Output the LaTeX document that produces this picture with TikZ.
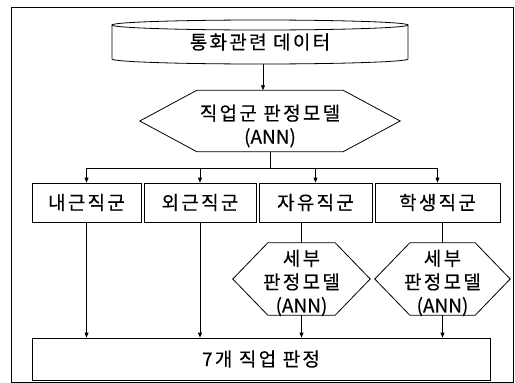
\documentclass[tikz,border=0pt]{standalone}
\usepackage{fontspec}
\setmainfont{Noto Sans CJK KR}[LetterSpace=12,FakeBold=0.4]
\newfontfamily\latn{Noto Sans CJK KR}[FakeBold=0.4]
\usetikzlibrary{arrows.meta}
\newcommand\hexoutline[2]{\draw[line] (#1.west) -- ([xshift=#2]#1.north west) -- ([xshift=-#2]#1.north east) -- (#1.east) -- ([xshift=-#2]#1.south east) -- ([xshift=#2]#1.south west) -- cycle;}
\begin{document}
\begin{tikzpicture}[x=1pt,y=-1pt,
  line/.style={line width=0.8pt,black},
  arr/.style={line,-{Triangle[length=5pt,width=4pt]}},
  txt/.style={font=\fontsize{19}{23.5}\selectfont,align=center,inner sep=0pt},
  boxn/.style={txt,draw,line width=0.8pt,minimum height=39pt},
  hexn/.style={inner sep=0pt}]
\useasboundingbox (0,0) rectangle (515,383);
\draw[line] (11,7) rectangle (513,382);
% database cylinder
\node[txt,minimum width=296pt,minimum height=44pt] (db) at (260,42) {통화관련 데이터};
\draw[line] (260,25) ellipse [x radius=148, y radius=5];
\draw[line] (112,25) -- (112,59) arc[start angle=180,end angle=0,x radius=148,y radius=5] -- (408,25);
% main model
\node[hexn,minimum width=260pt,minimum height=61pt] (m1) at (270,121) {};
\hexoutline{m1}{57pt}
\node[txt] (m1t) at ([yshift=-5pt]m1.center) {직업군 판정모델\\{\latn(ANN)}};
% group boxes
\node[boxn,minimum width=109pt] (b1) at (86.5,202.5) {내근직군};
\node[boxn,minimum width=112pt] (b2) at (200,202.5) {외근직군};
\node[boxn,minimum width=113pt] (b3) at (315.5,202.5) {자유직군};
\node[boxn,minimum width=125pt] (b4) at (437.5,202.5) {학생직군};
% detail models
\node[hexn,minimum width=137pt,minimum height=72pt] (h2) at (301.5,279) {};
\hexoutline{h2}{35pt}
\node[txt] (h2t) at ([yshift=-4pt]h2.center) {세부\\판정모델\\{\latn(ANN)}};
\node[hexn,minimum width=135pt,minimum height=72pt] (h3) at (442.5,279) {};
\hexoutline{h3}{35pt}
\node[txt] (h3t) at ([yshift=-4pt]h3.center) {세부\\판정모델\\{\latn(ANN)}};
% final
\node[boxn,minimum width=458pt,minimum height=42pt] (fin) at (261,359) {7개 직업 판정};
% connectors
\coordinate (dbout) at ([xshift=3pt]db.south);
\coordinate (bus) at (270,168);
\draw[arr] (dbout) -- (dbout |- m1.north);
\draw[line] (m1.south) -- (bus);
\foreach \b in {b1,b2,b3,b4} \draw[arr] (bus) -| (\b.north);
\draw[arr] (b1.south) -- (b1.south |- fin.north);
\draw[arr] (b2.south) -- (b2.south |- fin.north);
\draw[line] (b3.south -| h2.north) -- (h2.north);
\draw[line] (b4.south -| h3.north) -- (h3.north);
\draw[arr] (h2.south) -- (h2.south |- fin.north);
\draw[arr] (h3.south) -- (h3.south |- fin.north);
\end{tikzpicture}
\end{document}
